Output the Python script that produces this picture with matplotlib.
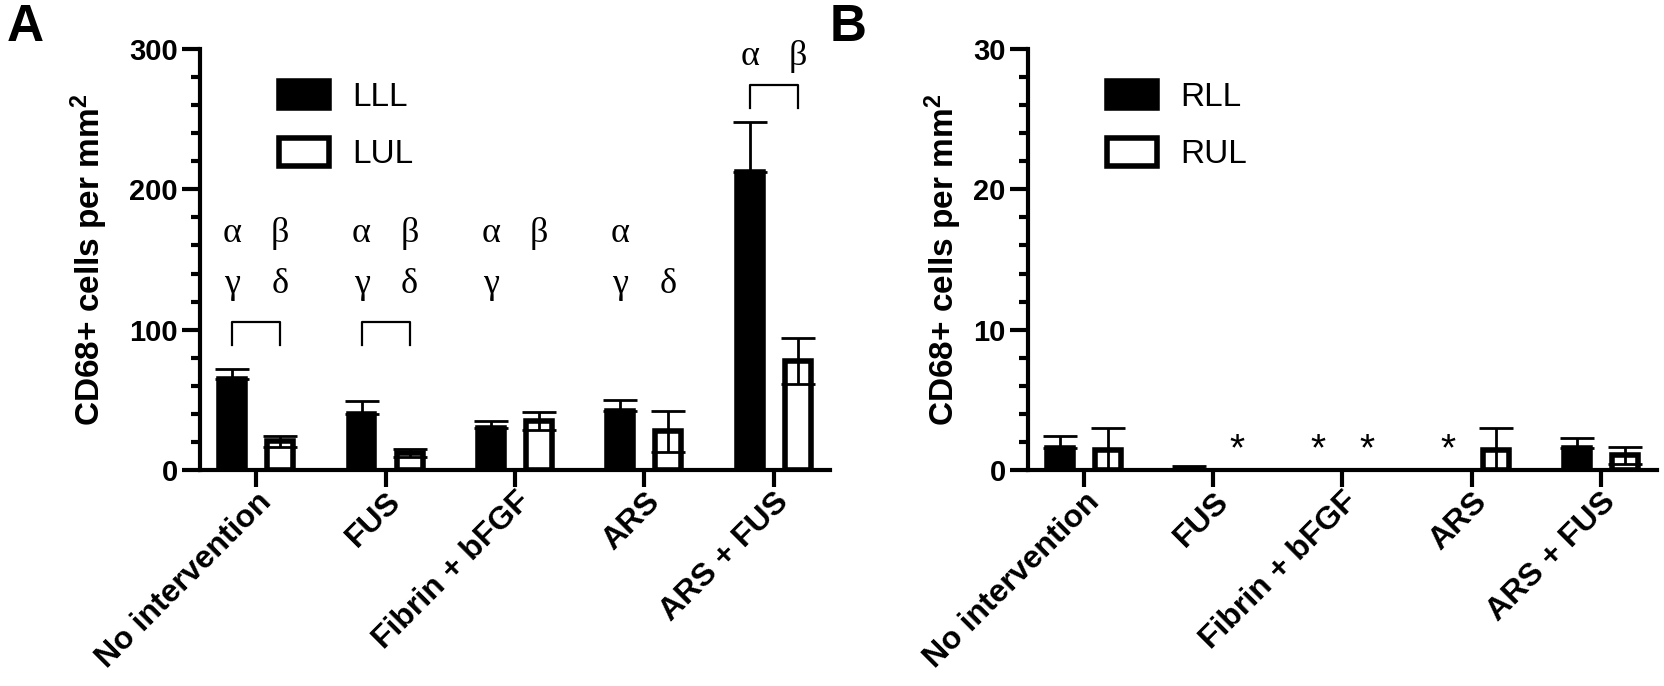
import numpy as np
import matplotlib
matplotlib.use('Agg')
import matplotlib.pyplot as plt
from matplotlib.transforms import ScaledTranslation

plt.rcParams['font.family'] = ['Liberation Sans', 'DejaVu Sans']
plt.rcParams['mathtext.fontset'] = 'custom'
plt.rcParams['mathtext.bf'] = 'Liberation Sans:bold'
plt.rcParams['mathtext.default'] = 'bf'

categories = ['No intervention', 'FUS', 'Fibrin + bFGF', 'ARS', 'ARS + FUS']

# panel A, left lung
lll = [65, 40, 30, 42, 212]
lll_err = [7, 9.5, 5, 8, 36]
lul = [20.5, 12, 35, 27.7, 77.7]
lul_err = [4, 3, 6.5, 14.6, 16.7]

# panel B, right lung (nan = no value, marked with *)
rll = [1.6, 0.05, np.nan, np.nan, 1.6]
rll_err = [0.85, 0.2, 0, 0, 0.7]
rul = [1.4, np.nan, np.nan, 1.4, 1.05]
rul_err = [1.6, 0, 0, 1.6, 0.6]

# greek letters: (group, series 0=lower/1=upper, y, letter)
greek_a = [(0, 0, 162.5, 'α'), (0, 1, 162.5, 'β'), (0, 0, 126, 'γ'), (0, 1, 126, 'δ'),
           (1, 0, 162.5, 'α'), (1, 1, 162.5, 'β'), (1, 0, 126, 'γ'), (1, 1, 126, 'δ'),
           (2, 0, 162.5, 'α'), (2, 1, 162.5, 'β'), (2, 0, 126, 'γ'),
           (3, 0, 162.5, 'α'), (3, 0, 126, 'γ'), (3, 1, 126, 'δ'),
           (4, 0, 288.6, 'α'), (4, 1, 288.6, 'β')]
# brackets: (group, top, leg bottom)
brackets_a = [(0, 105.5, 89), (1, 105.5, 89), (4, 274, 258)]

off = 0.186
bw = 0.2
x = np.arange(len(categories))

fig = plt.figure(figsize=(16.65, 6.86), dpi=100)
axA = fig.add_axes([0.1201, 0.3149, 0.3784, 0.6137])
axB = fig.add_axes([0.6174, 0.3149, 0.3778, 0.6137])


def draw_panel(ax, low, low_err, up, up_err, names, ymax, ystep, minor, lpad):
    ax.bar(x - off, low, bw, color='black', edgecolor='black', linewidth=4, label=names[0], zorder=1)
    ax.bar(x + off, up, bw, color='white', edgecolor='black', linewidth=4, label=names[1], zorder=1)
    # black bars: only the upper half shows, white bars: both halves
    for xs, v, e, sym, z in [(x - off, low, low_err, False, 0.5), (x + off, up, up_err, True, 3)]:
        v = np.array(v, dtype=float)
        e = np.array(e, dtype=float)
        ok = ~np.isnan(v)
        lo = e[ok] if sym else np.zeros(ok.sum())
        ax.errorbar(xs[ok], v[ok], yerr=[lo, e[ok]], fmt='none', ecolor='black',
                    elinewidth=2, capsize=12, capthick=2, zorder=z)
    ax.set_xlim(-0.435, 4.435)
    ax.set_ylim(0, ymax)
    ax.set_yticks(np.arange(0, ymax + 1, ystep))
    ax.set_yticks(np.arange(0, ymax + 0.01, minor), minor=True)
    ax.set_xticks(x)
    ax.set_xticklabels(categories, rotation=45, ha='right', rotation_mode='anchor',
                       fontsize=23, fontweight='bold')
    shift = ScaledTranslation(0.06, 0.04, fig.dpi_scale_trans)
    for t in ax.get_xticklabels():
        t.set_transform(t.get_transform() + shift)
    for t in ax.get_yticklabels():
        t.set_fontsize(21)
        t.set_fontweight('bold')
    ax.spines['top'].set_visible(False)
    ax.spines['right'].set_visible(False)
    ax.spines['left'].set_linewidth(3)
    ax.spines['bottom'].set_linewidth(3)
    ax.tick_params(axis='y', which='major', length=13, width=3, pad=3)
    ax.tick_params(axis='y', which='minor', length=6.5, width=3)
    ax.tick_params(axis='x', which='major', length=12, width=3, pad=0)
    ax.set_ylabel('CD68+ cells per mm$^2$', fontsize=24, fontweight='bold', labelpad=lpad)
    ax.legend(loc='upper left', bbox_to_anchor=(0.125, 0.925), frameon=False, fontsize=24,
              handlelength=1.5, handleheight=0.9, labelspacing=0.75, handletextpad=0.7,
              borderpad=0, borderaxespad=0)


draw_panel(axA, lll, lll_err, lul, lul_err, ['LLL', 'LUL'], 300, 100, 20, 14)
draw_panel(axB, rll, rll_err, rul, rul_err, ['RLL', 'RUL'], 30, 10, 2, 7)

for g, s, yv, letter in greek_a:
    xp = x[g] + (off if s else -off)
    axA.text(xp, yv, letter, ha='center', va='baseline', fontsize=26,
             family=['Liberation Serif', 'DejaVu Serif'])

for g, top, bot in brackets_a:
    axA.plot([x[g] - off, x[g] - off, x[g] + off, x[g] + off], [bot, top, top, bot],
             color='black', lw=1.6)

for xs, vals in [(x - off, rll), (x + off, rul)]:
    for xp, v in zip(xs, vals):
        if np.isnan(v):
            axB.text(xp, 0.7, '*', ha='center', va='baseline', fontsize=28,
                     family=['Liberation Sans', 'DejaVu Sans'])

fig.text(0.004, 0.995, 'A', fontsize=37, fontweight='bold', ha='left', va='top')
fig.text(0.4985, 0.995, 'B', fontsize=37, fontweight='bold', ha='left', va='top')

fig.savefig('out.png', dpi=100)
